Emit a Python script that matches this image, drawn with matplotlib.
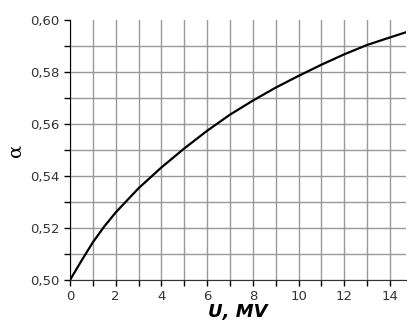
import numpy as np
import matplotlib
matplotlib.use("Agg")
import matplotlib.pyplot as plt
from matplotlib.ticker import MultipleLocator, FuncFormatter

# voltage (MV) and alpha
u_mv = [0, 0.5, 1, 1.5, 2, 3, 4, 5, 6, 7, 8, 9, 10, 11, 12, 13, 14, 14.67]
alpha = [0.500, 0.5074, 0.5145, 0.5206, 0.526, 0.5353, 0.5433, 0.5506, 0.5574,
         0.5636, 0.569, 0.574, 0.5785, 0.5828, 0.5868, 0.5904, 0.5933, 0.5952]

fig = plt.figure(figsize=(4.08, 3.24), dpi=100)
ax = fig.add_axes([0.1716, 0.1358, 0.8235, 0.8025])

ax.plot(u_mv, alpha, color="black", lw=1.6, zorder=3)

ax.set_xlim(0, 14.7)
ax.set_ylim(0.50, 0.60)
ax.xaxis.set_major_locator(MultipleLocator(2))
ax.xaxis.set_minor_locator(MultipleLocator(1))
ax.yaxis.set_major_locator(MultipleLocator(0.02))
ax.yaxis.set_minor_locator(MultipleLocator(0.01))
ax.yaxis.set_major_formatter(FuncFormatter(lambda v, p: f"{v:.2f}".replace(".", ",")))

ax.grid(which="both", color="#999999", lw=1.0)
ax.set_axisbelow(True)
for s in ["top", "right"]:
    ax.spines[s].set_visible(False)
ax.spines["left"].set_color("black")
ax.spines["bottom"].set_color("#333333")
ax.tick_params(which="both", direction="out", length=4, width=1, labelsize=9.5,
               colors="black", labelcolor="#333333")

ax.set_xlabel("U, MV", fontsize=13, fontweight="bold", fontstyle="italic", labelpad=0)
ax.set_ylabel("α", fontsize=14, family="DejaVu Serif", labelpad=4)

# no horizontal grid line along the top edge
fig.canvas.draw()
for t in ax.yaxis.get_major_ticks():
    if abs(t.get_loc() - 0.60) < 1e-6:
        t.gridline.set_visible(False)

fig.savefig("out.png", dpi=100)
